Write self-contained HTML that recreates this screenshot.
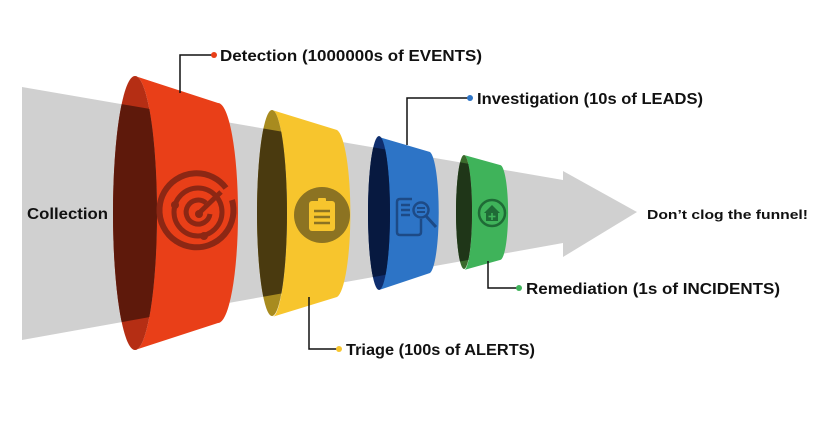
<!DOCTYPE html>
<html><head><style>
html,body{margin:0;padding:0;background:#fff;}
svg{display:block;}
text{font-family:"Liberation Sans",sans-serif;font-weight:bold;fill:#111;}
</style></head><body>
<svg width="835" height="426" viewBox="0 0 835 426" xmlns="http://www.w3.org/2000/svg">
<defs>
<clipPath id="arr"><polygon points="22,87 563,180 563,171 637,212 563,257 563,243 22,340"/></clipPath>
</defs>
<polygon points="22,87 563,180 563,171 637,212 563,257 563,243 22,340" fill="#d0d0d0"/>

<!-- Red -->
<path d="M135,76 L218,103 A20,110 0 0 1 218,323 L135,350 A22,137 0 0 0 135,76 Z" fill="#e93f18"/>
<ellipse cx="135" cy="213" rx="22" ry="137" fill="#b52e14"/>
<ellipse cx="135" cy="213" rx="22" ry="137" fill="#5e190b" clip-path="url(#arr)"/>
<g fill="none" stroke="#8c2714" stroke-linecap="butt">
<path d="M226,188 A37,37 0 1 0 232,200" stroke-width="6"/>
<circle cx="198" cy="212" r="24" stroke-width="5"/>
<path d="M206,203 A12,12 0 1 0 210,214" stroke-width="5"/>
<line x1="198" y1="214" x2="221" y2="192" stroke-width="5"/>
</g>
<g fill="#8c2714"><circle cx="175" cy="205" r="4"/><circle cx="204" cy="236" r="4"/><circle cx="199" cy="214" r="4"/></g>

<!-- Yellow -->
<path d="M272,110 L337,130 A15,84 0 0 1 337,297 L272,317 A15,103 0 0 0 272,110 Z" fill="#f7c52d"/>
<ellipse cx="272" cy="213" rx="15" ry="103" fill="#a88b1f"/>
<ellipse cx="272" cy="213" rx="15" ry="103" fill="#4a3a0f" clip-path="url(#arr)"/>
<circle cx="322" cy="215" r="28" fill="#8c7322"/>
<rect x="309" y="201" width="26" height="30" rx="3" fill="#f7c52d"/>
<rect x="318" y="198" width="8" height="5" rx="1" fill="#f7c52d"/>
<g stroke="#8c7322" stroke-width="2.5"><line x1="314" y1="211" x2="330" y2="211"/><line x1="314" y1="217" x2="330" y2="217"/><line x1="314" y1="223" x2="330" y2="223"/></g>

<!-- Blue -->
<path d="M379,137 L430,152 A10,61 0 0 1 430,273 L379,290 A11,77 0 0 0 379,137 Z" fill="#2d74c6"/>
<ellipse cx="379" cy="213" rx="11" ry="77" fill="#0f2e6e"/>
<ellipse cx="379" cy="213" rx="11" ry="77" fill="#071940" clip-path="url(#arr)"/>
<g fill="none" stroke="#1d4a86" stroke-width="2.5">
<path d="M412,199 L400,199 Q397,199 397,202 L397,232 Q397,235 400,235 L418,235 Q421,235 421,232 L421,219"/>
<circle cx="421" cy="210" r="7.5"/>
<line x1="426" y1="216" x2="436" y2="227" stroke-width="3"/>
<line x1="401" y1="205" x2="410" y2="205"/><line x1="401" y1="210" x2="410" y2="210"/><line x1="401" y1="215" x2="410" y2="215"/>
<line x1="417" y1="208" x2="425" y2="208" stroke-width="2"/><line x1="417" y1="212" x2="425" y2="212" stroke-width="2"/>
</g>

<!-- Green -->
<path d="M464,155 L500,165 A8,47 0 0 1 500,260 L464,270 A8,57 0 0 0 464,155 Z" fill="#3fb35a"/>
<ellipse cx="464" cy="212" rx="8" ry="57" fill="#3b6a2c"/>
<ellipse cx="464" cy="212" rx="8" ry="57" fill="#1f3618" clip-path="url(#arr)"/>
<circle cx="492" cy="213" r="13" fill="none" stroke="#1f6b36" stroke-width="2.5"/>
<path d="M484,213 L492,205 L500,213 L498,213 L498,221 L486,221 L486,213 Z" fill="#1f6b36"/>
<g stroke="#3fb35a" stroke-width="1.6"><line x1="492" y1="213" x2="492" y2="220"/><line x1="488.5" y1="216.5" x2="495.5" y2="216.5"/></g>

<!-- Leaders -->
<g fill="none" stroke="#111" stroke-width="1.5">
<polyline points="180,93 180,55 213,55"/>
<polyline points="407,145 407,98 469,98"/>
<polyline points="309,297 309,349 338,349"/>
<polyline points="488,261 488,288 518,288"/>
</g>
<circle cx="214" cy="55" r="3" fill="#e93f18"/>
<circle cx="470" cy="98" r="3" fill="#2d74c6"/>
<circle cx="339" cy="349" r="3" fill="#f7c52d"/>
<circle cx="519" cy="288" r="3" fill="#3fb35a"/>

<text x="220" y="61" font-size="16" textLength="262" lengthAdjust="spacingAndGlyphs">Detection (1000000s of EVENTS)</text>
<text x="477" y="104" font-size="16" textLength="226" lengthAdjust="spacingAndGlyphs">Investigation (10s of LEADS)</text>
<text x="346" y="355" font-size="16" textLength="189" lengthAdjust="spacingAndGlyphs">Triage (100s of ALERTS)</text>
<text x="526" y="294" font-size="16" textLength="254" lengthAdjust="spacingAndGlyphs">Remediation (1s of INCIDENTS)</text>
<text x="27" y="219" font-size="16" textLength="81" lengthAdjust="spacingAndGlyphs">Collection</text>
<text x="647" y="219" font-size="13" textLength="161" lengthAdjust="spacingAndGlyphs">Don’t clog the funnel!</text>
</svg>
</body></html>
